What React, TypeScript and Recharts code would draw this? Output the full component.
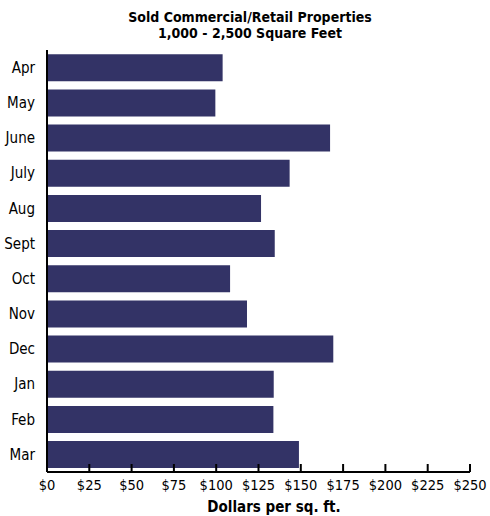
import { BarChart, Bar, XAxis, YAxis } from "recharts";

const months = ["Apr", "May", "June", "July", "Aug", "Sept", "Oct", "Nov", "Dec", "Jan", "Feb", "Mar"];
const pricePerSqFt = [103.8, 99.5, 167.3, 143.4, 126.5, 134.6, 108.2, 118.2, 169.2, 134, 133.8, 148.9];
const xTicks = [0, 25, 50, 75, 100, 125, 150, 175, 200, 225, 250];
const titleLines = ["Sold Commercial/Retail Properties", "1,000 - 2,500 Square Feet"];

const FONT = '"Liberation Sans Narrow", "DejaVu Sans Condensed", "Liberation Sans", sans-serif';

const data = months.map((m, i) => ({ month: m, value: pricePerSqFt[i] }));

// ticks point up into the plot, label sits below the axis line
const XTick = ({ x, y, payload }: any) => (
  <g>
    <line x1={x} x2={x} y1={y - 8} y2={y} stroke="#000" strokeWidth={2} />
    <text x={x} y={y + 18} textAnchor="middle" fontSize={14.5} fill="#000" fontFamily={FONT}>
      {`$${payload.value}`}
    </text>
  </g>
);

const textStyle = {
  position: "absolute" as const,
  textAlign: "center" as const,
  fontWeight: "bold" as const,
  fontSize: 14,
  lineHeight: "16px",
  color: "#000",
  whiteSpace: "nowrap" as const,
};

export default function App() {
  return (
    <div style={{ position: "absolute", left: 0, top: 0, width: 490, height: 516, background: "#fff", fontFamily: FONT }}>
      {titleLines.map((t, i) => (
        <div key={t} style={{ ...textStyle, left: 0, width: 500, top: 9 + i * 16 }}>
          {t}
        </div>
      ))}
      <BarChart
        width={490}
        height={516}
        data={data}
        layout="vertical"
        margin={{ top: 50, right: 20, left: 0, bottom: 14 }}
        barCategoryGap="12%"
      >
        <XAxis
          type="number"
          domain={[0, 250]}
          ticks={xTicks}
          interval={0}
          tickSize={0}
          tickMargin={0}
          tickLine={false}
          axisLine={{ stroke: "#000", strokeWidth: 2 }}
          tick={<XTick />}
          height={30}
        />
        <YAxis
          type="category"
          dataKey="month"
          width={47}
          tickLine={false}
          tickMargin={6}
          axisLine={{ stroke: "#000", strokeWidth: 2 }}
          tick={{ fill: "#000", fontSize: 15, fontFamily: FONT }}
        />
        <Bar dataKey="value" fill="#333366" isAnimationActive={false} />
      </BarChart>
      <div style={{ ...textStyle, fontSize: 15, left: 174, width: 200, top: 499 }}>Dollars per sq. ft.</div>
    </div>
  );
}
